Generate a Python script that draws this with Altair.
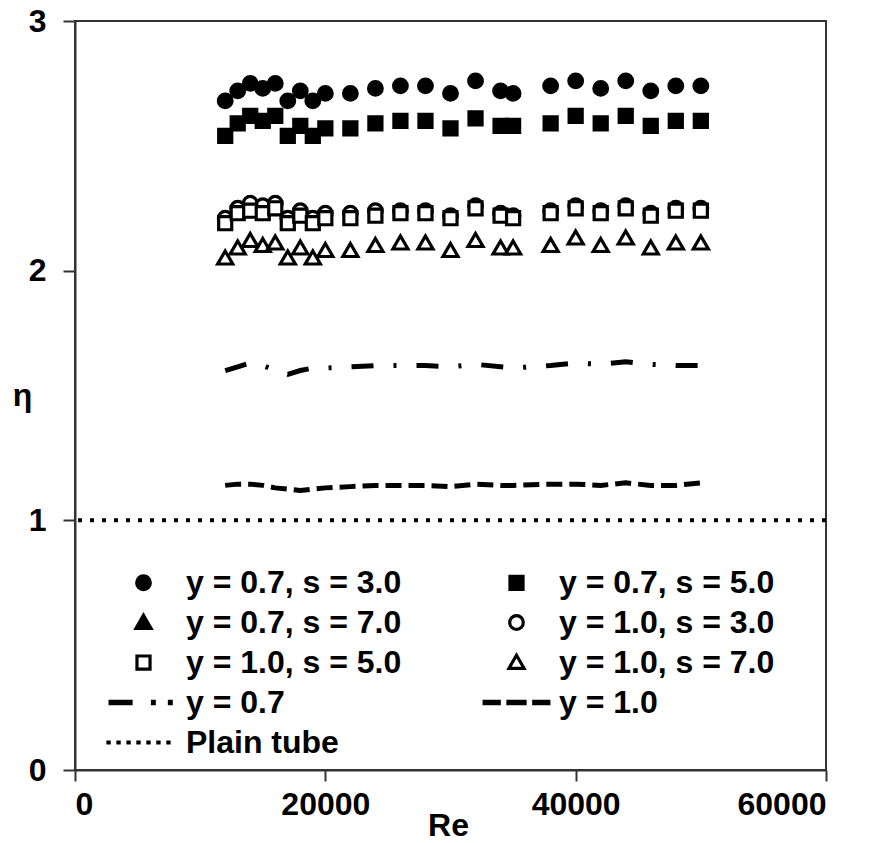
import altair as alt
import pandas as pd

# ---- data ----
re_vals = [12000, 13000, 14000, 15000, 16000, 17000, 18000, 19000, 20000, 22000,
           24000, 26000, 28000, 30000, 32000, 34000, 35000, 38000, 40000, 42000,
           44000, 46000, 48000, 50000]

eta_y07_s3 = [2.68, 2.72, 2.75, 2.73, 2.75, 2.68, 2.72, 2.68, 2.71, 2.71, 2.73, 2.74,
              2.74, 2.71, 2.76, 2.72, 2.71, 2.74, 2.76, 2.73, 2.76, 2.72, 2.74, 2.74]
eta_y07_s5 = [2.54, 2.59, 2.62, 2.60, 2.62, 2.54, 2.58, 2.54, 2.57, 2.57, 2.59, 2.60,
              2.60, 2.57, 2.61, 2.58, 2.58, 2.59, 2.62, 2.59, 2.62, 2.58, 2.60, 2.60]
eta_y10_s3 = [2.21, 2.25, 2.27, 2.26, 2.27, 2.21, 2.24, 2.21, 2.23, 2.23, 2.24, 2.24,
              2.24, 2.22, 2.26, 2.23, 2.22, 2.24, 2.26, 2.24, 2.26, 2.23, 2.25, 2.25]
eta_y10_s5 = [2.19, 2.23, 2.24, 2.23, 2.25, 2.19, 2.22, 2.19, 2.21, 2.21, 2.22, 2.23,
              2.23, 2.21, 2.25, 2.22, 2.21, 2.23, 2.25, 2.23, 2.25, 2.22, 2.24, 2.24]
eta_y10_s7 = [2.05, 2.09, 2.12, 2.10, 2.11, 2.05, 2.09, 2.05, 2.08, 2.08, 2.10, 2.11,
              2.11, 2.08, 2.12, 2.09, 2.09, 2.10, 2.13, 2.10, 2.13, 2.09, 2.11, 2.11]
eta_line_y07 = [1.60, 1.615, 1.63, 1.62, 1.60, 1.585, 1.60, 1.61, 1.61, 1.615, 1.62, 1.62,
                1.62, 1.615, 1.625, 1.615, 1.61, 1.62, 1.63, 1.625, 1.635, 1.625, 1.62, 1.62]
eta_line_y10 = [1.14, 1.145, 1.145, 1.14, 1.13, 1.125, 1.12, 1.125, 1.13, 1.135, 1.14, 1.14,
                1.14, 1.135, 1.145, 1.14, 1.14, 1.145, 1.145, 1.14, 1.15, 1.14, 1.14, 1.15]
eta_plain = [1.0]

S_07_3 = "y = 0.7, s = 3.0"
S_07_5 = "y = 0.7, s = 5.0"
S_07_7 = "y = 0.7, s = 7.0"
S_10_3 = "y = 1.0, s = 3.0"
S_10_5 = "y = 1.0, s = 5.0"
S_10_7 = "y = 1.0, s = 7.0"
S_L07 = "y = 0.7"
S_L10 = "y = 1.0"
S_PLAIN = "Plain tube"
# legend is filled column by column: left column first, then right column
series_names = [S_07_3, S_07_7, S_10_5, S_L07, S_PLAIN,
                S_07_5, S_10_3, S_10_7, S_L10]
x_ticks = [0, 20000, 40000, 60000]
y_ticks = [0, 1, 2, 3]

# ---- symbol styles (unit-box SVG paths, 14.5 px per unit) ----
CIRCLE = ("M0.47,0C0.47,0.2596,0.2596,0.47,0,0.47C-0.2596,0.47,-0.47,0.2596,-0.47,0"
          "C-0.47,-0.2596,-0.2596,-0.47,0,-0.47C0.2596,-0.47,0.47,-0.2596,0.47,0Z")
SQUARE = "M-0.45,-0.45H0.45V0.45H-0.45Z"
TRI = "M0,-0.5L0.52,0.4H-0.52Z"
DASHDOT = ("M-2.3,-0.08H-0.86V0.08H-2.3Z M0.62,-0.08H0.74V0.08H0.62Z "
           "M1.79,-0.08H1.91V0.08H1.79Z")
DASHED = ("M-2.23,-0.08H-1.19V0.08H-2.23Z M-0.59,-0.08H0.59V0.08H-0.59Z "
          "M1.19,-0.08H2.23V0.08H1.19Z")
DOTTED = ("M-2.45,-0.035H-2.37V0.035H-2.45Z M-1.76,-0.035H-1.68V0.035H-1.76Z "
          "M-1.07,-0.035H-0.99V0.035H-1.07Z M-0.385,-0.035H-0.305V0.035H-0.385Z "
          "M0.305,-0.035H0.385V0.035H0.305Z M0.99,-0.035H1.07V0.035H0.99Z "
          "M1.68,-0.035H1.76V0.035H1.68Z")
shape_map = {S_07_3: CIRCLE, S_07_5: SQUARE, S_07_7: TRI, S_10_3: CIRCLE,
             S_10_5: SQUARE, S_10_7: TRI, S_L07: DASHDOT, S_L10: DASHED, S_PLAIN: DOTTED}
fill_map = {S_07_3: "black", S_07_5: "black", S_07_7: "black", S_10_3: "white",
            S_10_5: "white", S_10_7: "white", S_L07: "black", S_L10: "black",
            S_PLAIN: "black"}
shape_range = [shape_map[s] for s in series_names]
fill_range = [fill_map[s] for s in series_names]

# ---- tables ----
point_series = [(S_07_3, eta_y07_s3), (S_07_5, eta_y07_s5),
                (S_10_3, eta_y10_s3), (S_10_5, eta_y10_s5), (S_10_7, eta_y10_s7)]
rows = []
for name, vals in point_series:
    for r, e in zip(re_vals, vals):
        rows.append({"Re": r, "eta": e, "series": name})
points_df = pd.DataFrame(rows)
line07_df = pd.DataFrame({"Re": re_vals, "eta": eta_line_y07})
line10_df = pd.DataFrame({"Re": re_vals, "eta": eta_line_y10})
plain_df = pd.DataFrame({"eta": eta_plain})

X = alt.X("Re:Q", scale=alt.Scale(domain=[0, 60000], nice=False),
          axis=alt.Axis(values=x_ticks, format="d", title="Re", titleX=373, titleY=55,
                        titleBaseline="middle", labelPadding=8, tickSize=11))
Y = alt.Y("eta:Q", scale=alt.Scale(domain=[0, 3], nice=False),
          axis=alt.Axis(values=y_ticks, title="η", titleAngle=0, titleX=-53, titleY=374,
                        titleAlign="center", titleBaseline="middle", labelPadding=17,
                        tickSize=12))

legend = alt.Legend(title=None, orient="none", legendX=32, legendY=545, columns=2,
                    columnPadding=75, rowPadding=7, labelFont="Liberation Sans",
                    labelFontSize=32, labelFontWeight="bold", labelColor="black",
                    labelLimit=400, labelOffset=26, symbolOffset=20, symbolSize=841,
                    symbolStrokeWidth=3.2, symbolStrokeColor="black", padding=0)

points = alt.Chart(points_df).mark_point(
    filled=True, size=841, stroke="black", strokeWidth=3.2, opacity=1
).encode(
    x=X, y=Y,
    color=alt.Color("series:N", scale=alt.Scale(domain=series_names, range=fill_range),
                    legend=legend),
    shape=alt.Shape("series:N", scale=alt.Scale(domain=series_names, range=shape_range),
                    legend=legend),
)

line07 = alt.Chart(line07_df).mark_line(
    color="black", strokeWidth=5, strokeDash=[22, 20, 3, 20], strokeCap="butt"
).encode(x=X, y=Y)

line10 = alt.Chart(line10_df).mark_line(
    color="black", strokeWidth=5, strokeDash=[16, 7], strokeCap="butt"
).encode(x=X, y=Y)

plain = alt.Chart(plain_df).mark_rule(
    color="black", strokeWidth=4, strokeDash=[4, 8]
).encode(y=Y)

chart = alt.layer(plain, line10, line07, points).properties(
    width=751, height=749,
    background="white",
    autosize=alt.AutoSizeParams(type="none"),
    padding={"left": 75, "top": 21, "right": 50, "bottom": 73},
).configure_view(
    stroke="#333", strokeWidth=2
).configure_axis(
    labelFont="Liberation Sans", labelFontSize=32, labelFontWeight="bold",
    labelColor="black", titleFont="Liberation Sans", titleFontSize=32,
    titleFontWeight="bold", titleColor="black", domainColor="#333", domainWidth=2,
    tickColor="#333", tickWidth=2, grid=False
)

chart.save("out.html", embed_options={"renderer": "svg", "actions": False})
